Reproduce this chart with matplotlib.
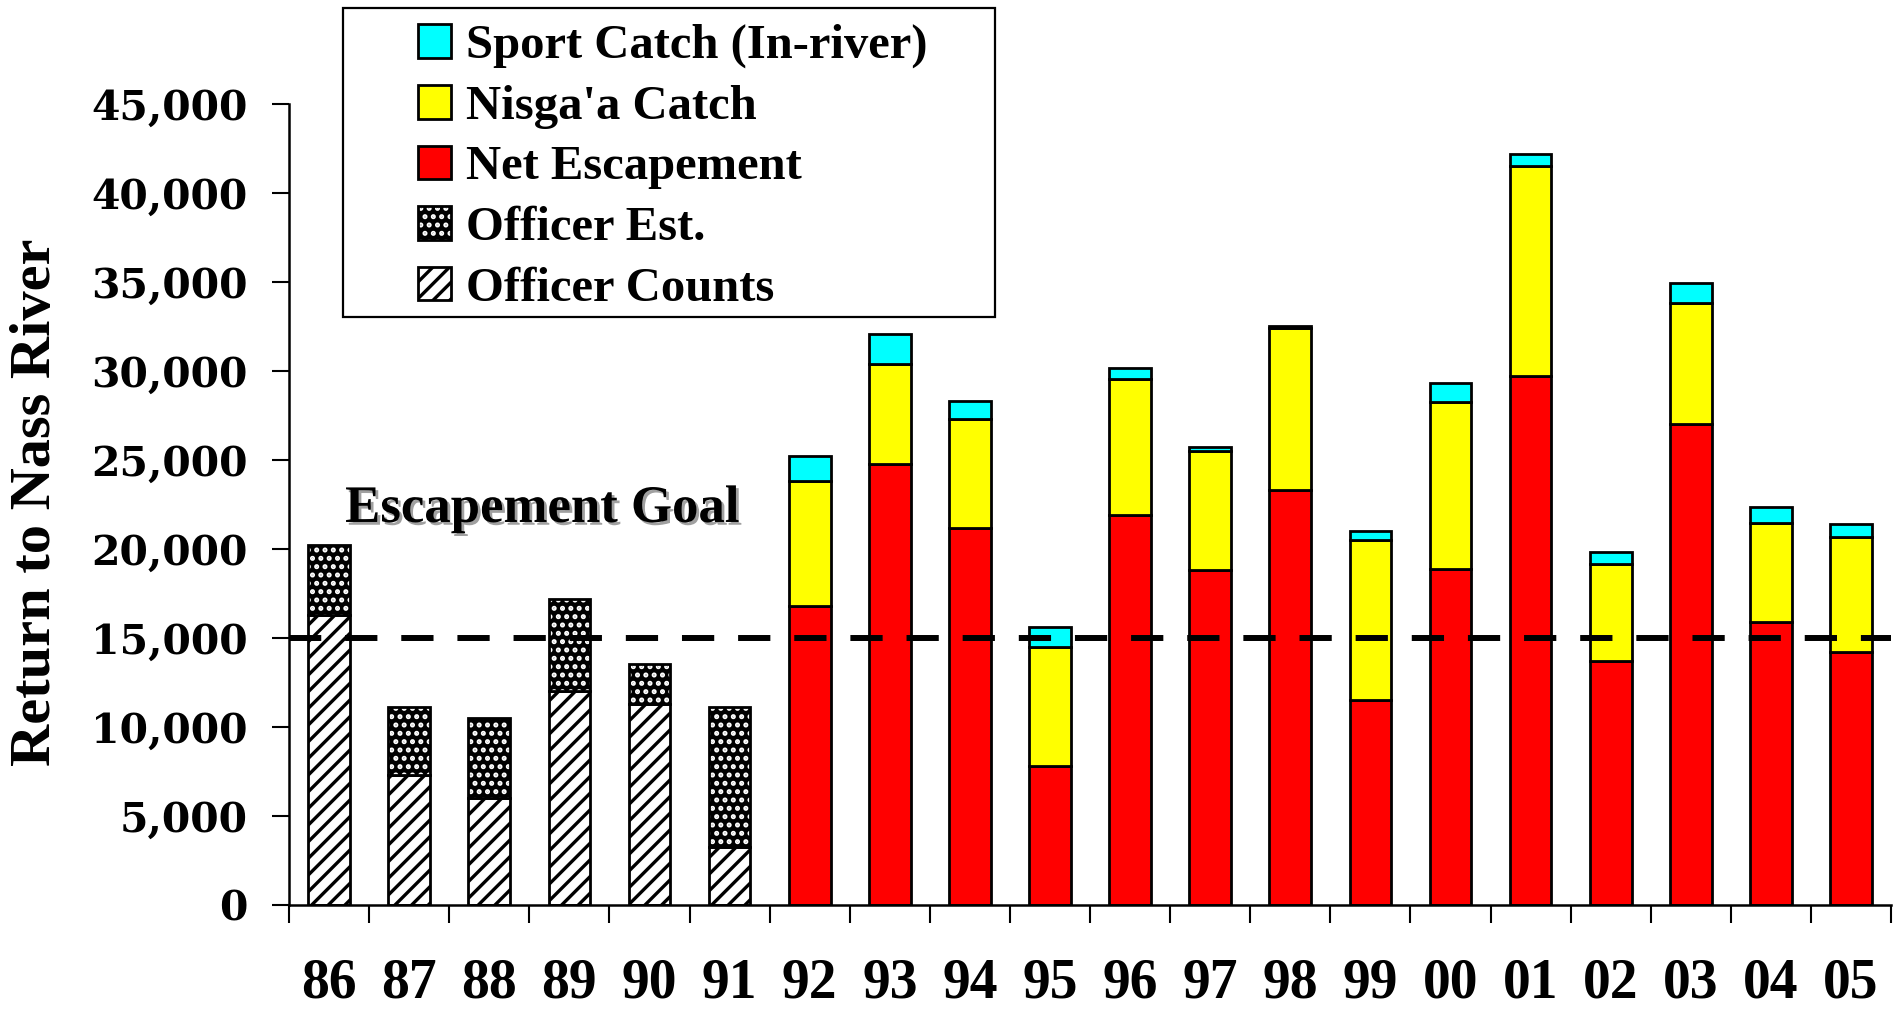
import numpy as np
import matplotlib
matplotlib.use("Agg")
import matplotlib.pyplot as plt
import matplotlib.patheffects as pe
from matplotlib.patches import Patch, Rectangle
from matplotlib.legend_handler import HandlerTuple

# --- data ---
years = ["86", "87", "88", "89", "90", "91", "92", "93", "94", "95",
         "96", "97", "98", "99", "00", "01", "02", "03", "04", "05"]

# 1986-1991: fishery officer counts / estimates
officer_counts = [16300, 7300, 6000, 12000, 11300, 3250]
officer_est = [3900, 3800, 4500, 5200, 2250, 7900]

# 1992-2005: stacked escapement + catches
net_escapement = [16800, 24800, 21200, 7800, 21900, 18800, 23300,
                  11500, 18900, 29700, 13700, 27000, 15900, 14200]
nisgaa_catch = [7000, 5600, 6100, 6700, 7650, 6700, 9100,
                9000, 9350, 11800, 5450, 6800, 5550, 6450]
sport_catch = [1400, 1700, 1000, 1100, 600, 250, 150,
               500, 1050, 700, 700, 1150, 900, 750]

escapement_goal = 15000
y_ticks = [0, 5000, 10000, 15000, 20000, 25000, 30000, 35000, 40000, 45000]

plt.rcParams["font.family"] = ["Liberation Serif", "DejaVu Serif"]
plt.rcParams["font.weight"] = "bold"
plt.rcParams["hatch.linewidth"] = 2.4

fig = plt.figure(figsize=(18.99, 10.13), dpi=100)
ax = fig.add_axes([0.1522, 0.1066, 0.8436, 0.7907])

width = 0.52
edge = dict(edgecolor="black", linewidth=2)
x_off = np.arange(len(officer_counts))
x_new = np.arange(len(officer_counts), len(years))

# officer counts (diagonal hatch)
ax.bar(x_off, officer_counts, width, color="white", hatch="//", **edge, zorder=2)
# officer estimates (dotted pattern: black with white dots)
bot = np.array(officer_counts)
ax.bar(x_off, officer_est, width, bottom=bot, color="black", edgecolor="white",
       hatch="..", linewidth=0, zorder=2)
ax.bar(x_off, officer_est, width, bottom=bot, fill=False, **edge, zorder=3)

# stacked bars 92-05
net = np.array(net_escapement)
nis = np.array(nisgaa_catch)
ax.bar(x_new, net, width, color="#FF0000", **edge, zorder=2)
ax.bar(x_new, nis, width, bottom=net, color="#FFFF00", **edge, zorder=2)
ax.bar(x_new, sport_catch, width, bottom=net + nis, color="#00FFFF", **edge, zorder=2)

# escapement goal
ax.axhline(escapement_goal, color="black", lw=4.3, linestyle=(0, (5.4, 4.0)), zorder=5)
ax.text(2.66, 22250, "Escapement Goal", fontsize=38, fontweight="bold",
        ha="center", va="center", zorder=6,
        path_effects=[pe.withSimplePatchShadow(offset=(2, -2), shadow_rgbFace="#888888", alpha=0.8)])

# axes
ax.set_xlim(-0.5, len(years) - 0.5)
ax.set_ylim(0, 45000)
for s in ["top", "right"]:
    ax.spines[s].set_visible(False)
for s in ["left", "bottom"]:
    ax.spines[s].set_linewidth(1.8)

ax.set_xticks(np.arange(len(years)))
ax.set_xticklabels(years, fontsize=40, fontweight="bold")
ax.set_xticks(np.arange(len(years) + 1) - 0.5, minor=True)
ax.tick_params(axis="x", which="major", length=0, pad=38)
ax.tick_params(axis="x", which="minor", length=13, width=1.5, direction="out")

ax.set_yticks(y_ticks)
ax.set_yticklabels([f"{v:,}" for v in y_ticks], fontsize=29.5, fontweight="bold",
                   family="DejaVu Serif")
ax.tick_params(axis="y", length=12, width=1.5, direction="out", pad=18)

ax.set_ylabel("Return to Nass River", fontsize=42, fontweight="bold", va="center")
ax.yaxis.set_label_coords(-0.158, 0.503)

# legend with a hand-placed frame
fig.add_artist(Rectangle((343 / 1899, 1 - 317 / 1013), (995 - 343) / 1899, (317 - 8) / 1013,
                         transform=fig.transFigure, facecolor="white",
                         edgecolor="black", linewidth=1.6, zorder=1))
h_sport = Patch(facecolor="#00FFFF", edgecolor="black", linewidth=2)
h_nis = Patch(facecolor="#FFFF00", edgecolor="black", linewidth=2)
h_net = Patch(facecolor="#FF0000", edgecolor="black", linewidth=2)
h_est = (Patch(facecolor="black", edgecolor="white", hatch="..", linewidth=0),
         Patch(fill=False, edgecolor="black", linewidth=2))
h_cnt = Patch(facecolor="white", edgecolor="black", hatch="//", linewidth=2)
leg = fig.legend([h_sport, h_nis, h_net, h_est, h_cnt],
                 ["Sport Catch (In-river)", "Nisga'a Catch", "Net Escapement",
                  "Officer Est.", "Officer Counts"],
                 loc="upper left", bbox_to_anchor=(418 / 1899, 1 - 24 / 1013),
                 bbox_transform=fig.transFigure, frameon=False,
                 prop={"size": 35, "weight": "bold"},
                 borderpad=0, borderaxespad=0, handlelength=0.68, handleheight=0.68,
                 handletextpad=0.3, labelspacing=0.34,
                 handler_map={tuple: HandlerTuple(ndivide=1)})
leg.set_zorder(2)

fig.savefig("out.png", dpi=100, facecolor="white")
